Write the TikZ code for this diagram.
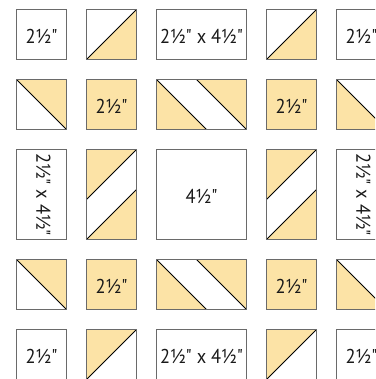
\documentclass[tikz,border=0pt]{standalone}
\usepackage{fontspec}
\setmainfont{PT Sans}[Ligatures=TeXOff, FakeStretch=0.92]
\definecolor{quiltyel}{HTML}{FCE3A6}
\definecolor{quiltedge}{HTML}{6A6A6A}
\tikzset{
  x=1pt, y=-1pt,
  edge/.style={draw=quiltedge, line width=1pt},
  seam/.style={draw=black, line width=0.8pt},
  yel/.style={fill=quiltyel},
  lbl/.style={font=\fontsize{20}{24}\selectfont, inner sep=0pt, text=black!90},
  pics/plain/.style args={#1/#2/#3/#4}{code={
    \path[edge, fill=#3] (0,0) rectangle (#1,#2);
    \node[lbl] (-t) at (#1/2,#2/2+1.5) {#4};
  }},
  pics/plainrot/.style args={#1/#2/#3}{code={
    \path[edge, fill=#3] (0,0) rectangle (#1,#2);
    \node[lbl, rotate=-90] (-t) at (#1/2+2,#2/2) {2½" x 4½"};
  }},
  pics/hstA/.style={code={% line BL-TR, yellow lower-right
    \path[fill=white] (0,0) rectangle (50,50);
    \path[yel] (0,50) -- (50,50) -- (50,0) -- cycle;
    \draw[seam] (0,50) -- (50,0);
    \path[edge] (0,0) rectangle (50,50);
  }},
  pics/hstB/.style={code={% line BL-TR, yellow upper-left
    \path[fill=white] (0,0) rectangle (50,50);
    \path[yel] (0,0) -- (50,0) -- (0,50) -- cycle;
    \draw[seam] (0,50) -- (50,0);
    \path[edge] (0,0) rectangle (50,50);
  }},
  pics/hstC/.style={code={% line TL-BR, yellow upper-right
    \path[fill=white] (0,0) rectangle (50,50);
    \path[yel] (0,0) -- (50,0) -- (50,50) -- cycle;
    \draw[seam] (0,0) -- (50,50);
    \path[edge] (0,0) rectangle (50,50);
  }},
  pics/hstD/.style={code={% line TL-BR, yellow lower-left
    \path[fill=white] (0,0) rectangle (50,50);
    \path[yel] (0,0) -- (50,50) -- (0,50) -- cycle;
    \draw[seam] (0,0) -- (50,50);
    \path[edge] (0,0) rectangle (50,50);
  }},
  pics/wide/.style={code={
    \path[fill=white] (0,0) rectangle (90,50);
    \path[yel] (0,0) -- (50,50) -- (0,50) -- cycle;
    \path[yel] (40,0) -- (90,0) -- (90,50) -- cycle;
    \draw[seam] (0,0) -- (50,50);
    \draw[seam] (40,0) -- (90,50);
    \path[edge] (0,0) rectangle (90,50);
  }},
  pics/tall/.style={code={
    \path[fill=white] (0,0) rectangle (50,90);
    \path[yel] (0,0) -- (50,0) -- (0,50) -- cycle;
    \path[yel] (0,90) -- (50,90) -- (50,40) -- cycle;
    \draw[seam] (0,50) -- (50,0);
    \draw[seam] (0,90) -- (50,40);
    \path[edge] (0,0) rectangle (50,90);
  }},
}
\begin{document}
\begin{tikzpicture}
\clip (0,0) rectangle (375,379);
\fill[white] (0,0) rectangle (375,379);
% columns: 16.5, 86.5, 156.5 (w90), 266.5, 336.5
% rows: 9.5, 79.5, 149.5 (h90), 259.5, 329.5
% row 1
\pic (r1c1) at (16.5,9.5) {plain={50/50/white/2½"}};
\pic (r1c2) at (86.5,9.5) {hstA};
\pic (r1c3) at (156.5,9.5) {plain={90/50/white/2½" x 4½"}};
\pic (r1c4) at (266.5,9.5) {hstA};
\pic (r1c5) at (336.5,9.5) {plain={50/50/white/2½"}};
% row 2
\pic (r2c1) at (16.5,79.5) {hstC};
\pic (r2c2) at (86.5,79.5) {plain={50/50/quiltyel/2½"}};
\pic (r2c3) at (156.5,79.5) {wide};
\pic (r2c4) at (266.5,79.5) {plain={50/50/quiltyel/2½"}};
\pic (r2c5) at (336.5,79.5) {hstD};
% row 3
\pic (r3c1) at (16.5,149.5) {plainrot={50/90/white}};
\pic (r3c2) at (86.5,149.5) {tall};
\pic (r3c3) at (156.5,149.5) {plain={90/90/white/4½"}};
\pic (r3c4) at (266.5,149.5) {tall};
\pic (r3c5) at (336.5,149.5) {plainrot={50/90/white}};
% row 4
\pic (r4c1) at (16.5,259.5) {hstC};
\pic (r4c2) at (86.5,259.5) {plain={50/50/quiltyel/2½"}};
\pic (r4c3) at (156.5,259.5) {wide};
\pic (r4c4) at (266.5,259.5) {plain={50/50/quiltyel/2½"}};
\pic (r4c5) at (336.5,259.5) {hstD};
% row 5
\pic (r5c1) at (16.5,329.5) {plain={50/50/white/2½"}};
\pic (r5c2) at (86.5,329.5) {hstB};
\pic (r5c3) at (156.5,329.5) {plain={90/50/white/2½" x 4½"}};
\pic (r5c4) at (266.5,329.5) {hstB};
\pic (r5c5) at (336.5,329.5) {plain={50/50/white/2½"}};
\end{tikzpicture}
\end{document}
